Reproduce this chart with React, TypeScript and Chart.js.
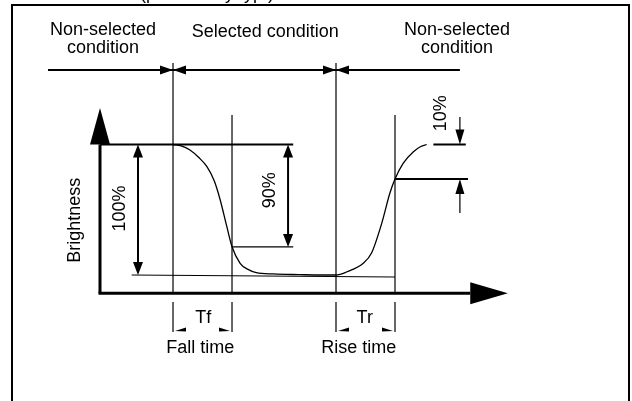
import React, { useEffect, useRef } from "react";
import { Chart, registerables } from "chart.js";
Chart.register(...registerables);

// Brightness response curve (time in arbitrary ms units, brightness in %)
const timeMs = [9.9, 11, 12.2, 13.4, 14.5, 15.5, 16.3, 17.2, 17.9, 19, 20, 21.2, 23.5, 27, 30, 32, 33.5, 35.7, 36.8, 38.2, 39.3, 40, 41.1, 42.5, 43.5, 44.3];
const brightnessPct = [100, 99, 95.8, 90, 83, 72, 57.5, 37, 21.7, 9, 4.5, 1.8, 0.8, 0.3, 0, 0, 2.5, 9, 16.6, 39.6, 62.6, 73.6, 85.6, 94.5, 98.5, 100];

// Key instants
const fallStart = 9.9;
const fallEnd = 17.9;
const riseStart = 32;
const riseEnd = 40;

// Key levels
const fullLevel = 100;
const zeroLevel = 0;
const fallMarkLevel = 21.5;
const riseMarkLevel = 73.6;

// Axis ranges
const xMin = 0;
const xMax = 55.3;
const yMin = -14;
const yMax = 128;

// Texts
const yAxisLabel = "Brightness";
const pct100 = "100%";
const pct90 = "90%";
const pct10 = "10%";
const phaseLeft = ["Non-selected", "condition"];
const phaseMid = "Selected condition";
const phaseRight = ["Non-selected", "condition"];
const fallSym = "Tf";
const riseSym = "Tr";
const fallLabel = "Fall time";
const riseLabel = "Rise time";
const topNote = "(preliminary typ.)";

const FONT = "18px 'Liberation Sans', Arial, Helvetica, sans-serif";
const INK = "#000";

const diagramPlugin = {
  id: "diagram",
  afterDatasetsDraw(chart: any) {
    const ctx: CanvasRenderingContext2D = chart.ctx;
    const xs = chart.scales.x;
    const ys = chart.scales.y;
    const X = (v: number) => xs.getPixelForValue(v);
    const Y = (v: number) => ys.getPixelForValue(v);
    const W = chart.width;
    const H = chart.height;

    ctx.save();
    ctx.strokeStyle = INK;
    ctx.fillStyle = INK;
    ctx.lineCap = "butt";

    const line = (x1: number, y1: number, x2: number, y2: number, lw: number) => {
      ctx.lineWidth = lw;
      ctx.beginPath();
      ctx.moveTo(x1, y1);
      ctx.lineTo(x2, y2);
      ctx.stroke();
    };
    const tri = (pts: number[][]) => {
      ctx.beginPath();
      ctx.moveTo(pts[0][0], pts[0][1]);
      for (let i = 1; i < pts.length; i++) ctx.lineTo(pts[i][0], pts[i][1]);
      ctx.closePath();
      ctx.fill();
    };
    // arrow head: tip at (x,y), dir: 'up'|'down'|'left'|'right'
    const head = (x: number, y: number, dir: string, len: number, hw: number) => {
      if (dir === "up") tri([[x, y], [x - hw, y + len], [x + hw, y + len]]);
      if (dir === "down") tri([[x, y], [x - hw, y - len], [x + hw, y - len]]);
      if (dir === "left") tri([[x, y], [x + len, y - hw], [x + len, y + hw]]);
      if (dir === "right") tri([[x, y], [x - len, y - hw], [x - len, y + hw]]);
    };
    const text = (s: string, x: number, y: number, rot = false) => {
      ctx.font = FONT;
      ctx.textAlign = "center";
      ctx.textBaseline = "middle";
      if (rot) {
        ctx.save();
        ctx.translate(x, y);
        ctx.rotate(-Math.PI / 2);
        ctx.fillText(s, 0, 0);
        ctx.restore();
      } else {
        ctx.fillText(s, x, y);
      }
    };

    // Frame
    ctx.lineWidth = 2;
    ctx.beginPath();
    ctx.moveTo(12, H + 5);
    ctx.lineTo(12, 5);
    ctx.lineTo(W - 3, 5);
    ctx.lineTo(W - 3, H + 5);
    ctx.stroke();

    // partially visible note above frame
    ctx.font = FONT;
    ctx.textAlign = "center";
    ctx.textBaseline = "alphabetic";
    ctx.fillText(topNote, X(14.5), -1);

    // Axes
    line(X(0), Y(yMin), X(0), Y(fullLevel), 3);
    tri([[X(0), Y(yMax)], [X(0) - 10, Y(fullLevel)], [X(0) + 10, Y(fullLevel)]]);
    line(X(0) - 1.5, Y(yMin), X(50.2), Y(yMin), 3);
    tri([[X(xMax), Y(yMin)], [X(50.2), Y(yMin) - 11], [X(50.2), Y(yMin) + 11]]);

    // Phase row
    const rowB = 157.1;
    line(X(-7.05), Y(rowB), X(48.8), Y(rowB), 2);
    for (const t of [fallStart, riseStart]) {
      head(X(t), Y(rowB), "right", 13, 4.5);
      head(X(t), Y(rowB), "left", 13, 4.5);
    }

    // Vertical guides
    for (const t of [fallStart, riseStart]) line(X(t), Y(162.5), X(t), Y(yMin), 1.2);
    for (const t of [fallEnd, riseEnd]) line(X(t), Y(122.6), X(t), Y(yMin), 1.2);
    // Lower guides with small arrowheads
    for (const t of [fallStart, fallEnd, riseStart, riseEnd]) line(X(t), Y(-20.7), X(t), Y(-43.7), 1.2);
    const hb = Y(-42.9);
    for (const [a, b] of [[fallStart, fallEnd], [riseStart, riseEnd]]) {
      tri([[X(a) + 2, hb], [X(a) + 13, hb - 3.5], [X(a) + 13, hb + 0.5]]);
      tri([[X(b) - 2, hb], [X(b) - 13, hb - 3.5], [X(b) - 13, hb + 0.5]]);
    }

    // Level lines
    line(X(0), Y(fullLevel), X(26.2), Y(fullLevel), 2);
    line(X(4.3), Y(zeroLevel), X(riseEnd), Y(zeroLevel - 1.5), 1.1);
    line(X(fallEnd), Y(fallMarkLevel), X(26.2), Y(fallMarkLevel), 1.2);

    // 100% double arrow
    const a100 = 5.15;
    line(X(a100), Y(fullLevel) + 8, X(a100), Y(zeroLevel) - 8, 2);
    head(X(a100), Y(fullLevel), "up", 13, 5);
    head(X(a100), Y(zeroLevel), "down", 13, 5);
    // 90% double arrow
    const a90 = 25.5;
    line(X(a90), Y(fullLevel) + 8, X(a90), Y(fallMarkLevel) - 8, 2);
    head(X(a90), Y(fullLevel), "up", 13, 5);
    head(X(a90), Y(fallMarkLevel), "down", 13, 5);

    // Rise side levels
    line(X(45.2), Y(fullLevel), X(49.6), Y(fullLevel), 2);
    line(X(riseEnd), Y(riseMarkLevel), X(49.9), Y(riseMarkLevel), 2);
    const a10 = 48.8;
    line(X(a10), Y(121), X(a10), Y(fullLevel) - 6, 1.2);
    head(X(a10), Y(fullLevel), "down", 15, 4.5);
    line(X(a10), Y(47.5), X(a10), Y(riseMarkLevel) + 6, 1.2);
    head(X(a10), Y(riseMarkLevel), "up", 15, 4.5);

    // Texts
    text(yAxisLabel, X(-3.4), Y(42), true);
    text(pct100, X(2.7), Y(51), true);
    text(pct90, X(23), Y(65), true);
    text(pct10, X(46.2), Y(124), true);
    text(phaseLeft[0], X(0.4), Y(187.7));
    text(phaseLeft[1], X(0.4), Y(173.9));
    text(phaseMid, X(22.4), Y(186.2));
    text(phaseRight[0], X(48.4), Y(187.7));
    text(phaseRight[1], X(48.4), Y(173.9));
    text(fallSym, X(14.0), Y(-33));
    text(riseSym, X(35.9), Y(-33));
    text(fallLabel, X(13.6), Y(-55.9));
    text(riseLabel, X(35.1), Y(-55.9));

    ctx.restore();
  },
};

export default function App() {
  const ref = useRef<HTMLCanvasElement | null>(null);
  useEffect(() => {
    if (!ref.current) return;
    const pxPerT = 7.375;
    const pxPerB = 1.305;
    const chart = new Chart(ref.current, {
      type: "scatter",
      data: {
        datasets: [
          {
            data: timeMs.map((t, i) => ({ x: t, y: brightnessPct[i] })),
            showLine: true,
            borderColor: "#000",
            borderWidth: 1.3,
            pointRadius: 0,
            cubicInterpolationMode: "monotone",
            clip: false,
          } as any,
        ],
      },
      options: {
        responsive: false,
        animation: false,
        events: [],
        layout: {
          padding: {
            left: 100,
            right: 632 - 100 - (xMax - xMin) * pxPerT,
            top: 275 - yMax * pxPerB,
            bottom: 401 - (275 - yMin * pxPerB),
          },
        },
        scales: {
          x: { type: "linear", min: xMin, max: xMax, display: false },
          y: { type: "linear", min: yMin, max: yMax, display: false },
        },
        plugins: { legend: { display: false }, tooltip: { enabled: false }, title: { display: false } },
      },
      plugins: [diagramPlugin],
    });
    return () => chart.destroy();
  }, []);
  return (
    <div style={{ position: "fixed", left: 0, top: 0, width: 632, height: 401, background: "#fff" }}>
      <canvas ref={ref} width={632} height={401} style={{ display: "block", width: 632, height: 401 }} />
    </div>
  );
}
